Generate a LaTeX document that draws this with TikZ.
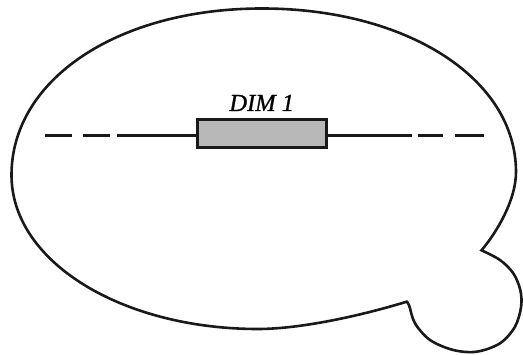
\documentclass[tikz,border=0pt]{standalone}
\usepackage{fontspec}
\setmainfont{Liberation Serif}
\newfontfamily\dimfont[FakeBold=0.9,ItalicFeatures={FakeBold=0.9}]{Liberation Serif}
\begin{document}
\begin{tikzpicture}[x=1pt,y=-1pt,
  outline/.style={draw=black!90, line width=2.6pt, line join=miter},
  dimbox/.style={draw=black!90, fill=black!28, line width=3.2pt, minimum width=129pt, minimum height=28pt, inner sep=0pt},
  axisline/.style={draw=black!90, line width=2.5pt},
  dimlabel/.style={font=\dimfont\fontsize{24.5}{24.5}\selectfont\itshape, inner sep=0pt, anchor=base}]
\useasboundingbox (0,0) rectangle (523,355);
% named points of the outline
\coordinate (R) at (516,172);
\coordinate (T) at (262,8.5);
\coordinate (L) at (11.5,175);
\coordinate (B) at (258,329);
\coordinate (c1) at (481.5,250.3);
\coordinate (c2) at (406.7,301.7);
% outline of the blob with the bump
\draw[outline]
  (c1) .. controls (497,232) and (516,200) .. (R)
       .. controls (516,78) and (406,8.5) .. (T)
       .. controls (117,8.5) and (11.5,80) .. (L)
       .. controls (11.5,262) and (122,329) .. (B)
       .. controls (300,329) and (360,316) .. (c2)
  -- plot[smooth, tension=0.55] coordinates {
  (406.7,301.7) (409.3,306) (415,323.3) (430,340) (453.3,350) (476.7,351.7) (500,343.3)
  (515,326.7) (521.1,306.7) (520.3,290) (513.3,273.3) (500,260) (481.5,250.3)} -- cycle;
% box and label
\node[dimbox] (box) at (262.2,133.7) {};
\node[dimlabel] (lbl) at (261.7,111) {DIM 1};
% axis line
\coordinate (lend) at (45,135.7);
\coordinate (rend) at (483.7,135.7);
\draw[axisline, dash pattern=on 26.7pt off 11.6pt on 26.7pt off 6.7pt on 90pt] (lend) -- (lend -| box.west);
\draw[axisline, dash pattern=on 83.4pt off 6.6pt on 25pt off 11.7pt on 40pt] (rend -| box.east) -- (rend);
\end{tikzpicture}
\end{document}
